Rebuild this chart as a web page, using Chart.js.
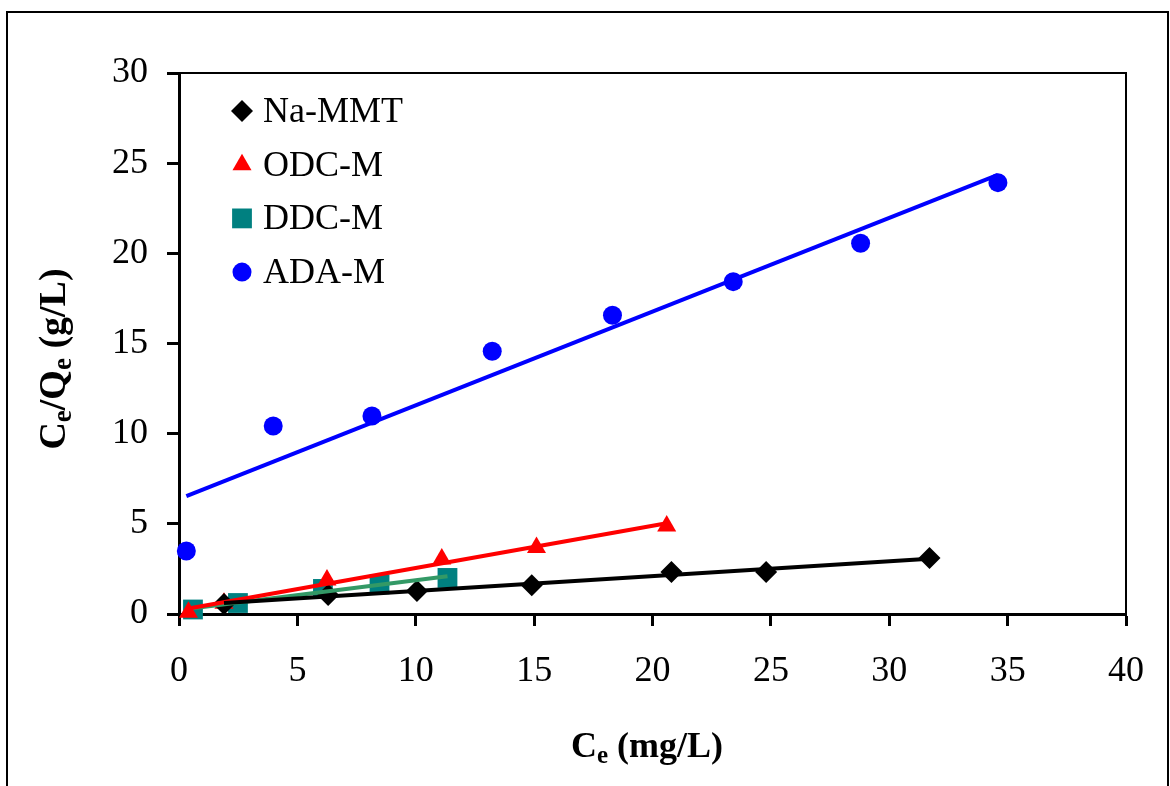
<!DOCTYPE html>
<html>
<head>
<meta charset="utf-8">
<script src="https://cdn.jsdelivr.net/npm/chart.js@4"></script>
<style>
  body { margin: 0; background: #fff; }
</style>
</head>
<body>
<canvas id="myChart" width="1170" height="786"></canvas>
<script>
// values (Ce in mg/L, Ce/Qe in g/L)
var naX  = [1.9, 6.3, 10.05, 14.9, 20.8, 24.8, 31.7];
var naY  = [0.55, 1.05, 1.28, 1.6, 2.33, 2.33, 3.1];
var odcX = [0.4, 1.9, 6.25, 11.1, 15.1, 20.6];
var odcY = [0.1, 0.6, 1.89, 3.05, 3.69, 4.88];
var ddcX = [0.59, 2.49, 6.08, 8.47, 11.34];
var ddcY = [0.25, 0.61, 1.39, 1.64, 2.0];
var adaX = [0.31, 3.98, 8.15, 13.23, 18.31, 23.41, 28.79, 34.59];
var adaY = [3.49, 10.43, 10.98, 14.57, 16.57, 18.43, 20.56, 23.92];

var seriesNames = ['Na-MMT', 'ODC-M', 'DDC-M', 'ADA-M'];
var xTicks = [0, 5, 10, 15, 20, 25, 30, 35, 40];
var yTicks = [0, 5, 10, 15, 20, 25, 30];

var serif = "'Liberation Serif', 'Times New Roman', serif";

function toPts(xs, ys) {
    var out = [];
    for (var i = 0; i < xs.length; i++) out.push({ x: xs[i], y: ys[i] });
    return out;
}

// linear trendline (least squares) between first and last x, like Excel does
function trend(xs, ys) {
    var n = xs.length, sx = 0, sy = 0, sxx = 0, sxy = 0;
    for (var i = 0; i < n; i++) {
        sx += xs[i]; sy += ys[i];
        sxx += xs[i] * xs[i]; sxy += xs[i] * ys[i];
    }
    var b = (n * sxy - sx * sy) / (n * sxx - sx * sx);
    var a = (sy - b * sx) / n;
    var x0 = Math.min.apply(null, xs), x1 = Math.max.apply(null, xs);
    return [{ x: x0, y: a + b * x0 }, { x: x1, y: a + b * x1 }];
}

var markers = [
    { style: 'rectRot',  radius: 11,  color: '#000000', line: '#000000' },
    { style: 'triangle', radius: 11,  color: '#FF0000', line: '#FF0000' },
    { style: 'rect',     radius: 14,  color: '#008080', line: '#339966' },
    { style: 'circle',   radius: 9.5, color: '#0000FF', line: '#0000FF' }
];
var xsList = [naX, odcX, ddcX, adaX];
var ysList = [naY, odcY, ddcY, adaY];

var datasets = [];
for (var i = 0; i < 4; i++) {
    datasets.push({
        label: seriesNames[i],
        data: toPts(xsList[i], ysList[i]),
        pointStyle: markers[i].style,
        pointRadius: markers[i].radius,
        pointHoverRadius: markers[i].radius,
        pointBorderWidth: 0,
        backgroundColor: markers[i].color,
        borderColor: markers[i].color,
        showLine: false,
        clip: false,
        order: 2
    });
    datasets.push({
        label: seriesNames[i] + ' trend',
        data: trend(xsList[i], ysList[i]),
        showLine: true,
        pointRadius: 0,
        borderColor: markers[i].line,
        borderWidth: 4,
        fill: false,
        clip: false,
        order: 1
    });
}

function drawRich(ctx, parts, size, subSize, subShift) {
    var total = 0, k;
    for (k = 0; k < parts.length; k++) {
        ctx.font = 'bold ' + (parts[k][1] ? subSize : size) + 'px ' + serif;
        total += ctx.measureText(parts[k][0]).width;
    }
    var cx = -total / 2;
    for (k = 0; k < parts.length; k++) {
        ctx.font = 'bold ' + (parts[k][1] ? subSize : size) + 'px ' + serif;
        ctx.fillText(parts[k][0], cx, parts[k][1] ? subShift : 0);
        cx += ctx.measureText(parts[k][0]).width;
    }
}

var extras = {
    id: 'extras',
    afterDraw: function (chart) {
        var ctx = chart.ctx;
        var a = chart.chartArea;
        ctx.save();
        ctx.strokeStyle = '#000';
        ctx.fillStyle = '#000';

        // outer frame
        ctx.lineWidth = 2;
        ctx.strokeRect(7, 12, 1161, 800);

        // top / right of plot area
        ctx.lineWidth = 2;
        ctx.beginPath();
        ctx.moveTo(a.left, a.top);
        ctx.lineTo(a.right, a.top);
        ctx.lineTo(a.right, a.bottom);
        ctx.stroke();

        // legend
        ctx.textAlign = 'left';
        ctx.textBaseline = 'alphabetic';
        ctx.font = '36px ' + serif;
        for (var i = 0; i < 4; i++) {
            var ly = 111 + i * 53.7;
            ctx.fillStyle = markers[i].color;
            Chart.helpers.drawPoint(ctx, {
                pointStyle: markers[i].style,
                radius: markers[i].radius,
                rotation: 0,
                borderWidth: 0
            }, 242, ly);
            ctx.fillStyle = '#000';
            ctx.fillText(seriesNames[i], 263, ly + 11);
        }

        // axis titles
        ctx.textBaseline = 'alphabetic';
        ctx.save();
        ctx.translate(647, 757);
        drawRich(ctx, [['C', false], ['e', true], [' (mg/L)', false]], 36, 25, 6);
        ctx.restore();

        ctx.save();
        ctx.translate(65, 359);
        ctx.rotate(-Math.PI / 2);
        drawRich(ctx, [['C', false], ['e', true], ['/Q', false], ['e', true], [' (g/L)', false]], 38, 27, 6);
        ctx.restore();

        ctx.restore();
    }
};

var ctx = document.getElementById('myChart').getContext('2d');
var chart = new Chart(ctx, {
    type: 'scatter',
    data: { datasets: datasets },
    options: {
        responsive: false,
        animation: false,
        devicePixelRatio: 1,
        layout: { padding: { left: 0, top: 73, right: 44, bottom: 0 } },
        plugins: {
            legend: { display: false },
            tooltip: { enabled: false }
        },
        scales: {
            x: {
                type: 'linear',
                min: 0,
                max: 40,
                afterBuildTicks: function (s) {
                    s.ticks = xTicks.map(function (v) { return { value: v }; });
                },
                ticks: { padding: 24, color: '#000', maxRotation: 0, font: { family: serif, size: 36 } },
                grid: { drawOnChartArea: false, drawTicks: true, tickLength: 12, tickWidth: 3, tickColor: '#000' },
                border: { color: '#000', width: 3 },
                afterFit: function (s) { s.height = 172; }
            },
            y: {
                type: 'linear',
                min: 0,
                max: 30,
                afterBuildTicks: function (s) {
                    s.ticks = yTicks.map(function (v) { return { value: v }; });
                },
                ticks: { padding: 19, color: '#000', font: { family: serif, size: 36 } },
                grid: { drawOnChartArea: false, drawTicks: true, tickLength: 12, tickWidth: 3, tickColor: '#000' },
                border: { color: '#000', width: 3 },
                afterFit: function (s) { s.width = 179; }
            }
        }
    },
    plugins: [extras]
});
</script>
</body>
</html>
